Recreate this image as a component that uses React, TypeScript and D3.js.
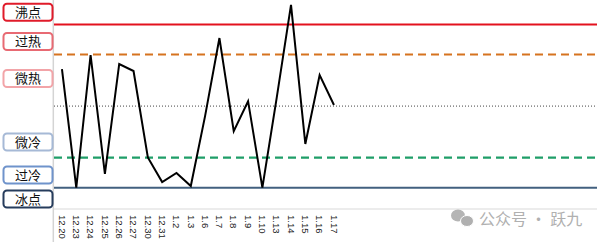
import React from "react";
import * as d3 from "d3";

const dates = ["12.20","12.23","12.24","12.25","12.26","12.27","12.30","12.31","1.2","1.3","1.6","1.7","1.8","1.9","1.10","1.13","1.14","1.15","1.16","1.17"];
const values = [72.7, 0, 81.3, 8.4, 75.8, 71.5, 18.5, 3.5, 9, 1, 44, 91.7, 34.7, 53, 0, 55, 112, 26.8, 69, 50.7];
const totalSlots = 38;
const levelNames = ["沸点","过热","微热","微冷","过冷","冰点"];
const levelLines = [100, 81.6, 50, 18.4, 0];
const labelValues = [107.5, 89.6, 66.9, 28, 7.8, -6.9];

const W = 597, H = 242;

export default function App() {
  const slots = d3.range(totalSlots).map(String);
  const x = d3.scaleBand<string>().domain(slots).range([54.8, 598.8]).padding(0);
  const y = d3.scaleLinear().domain([-13.05, 115]).range([209, 0]);
  const cx = (i: number) => (x(String(i)) as number) + x.bandwidth() / 2;
  const line = d3.line<number>().x((_, i) => cx(i)).y((v) => y(v));

  const lineStyles = [
    { stroke: "#e3121e", width: 2, dash: "" },
    { stroke: "#d6731f", width: 2.2, dash: "8,5" },
    { stroke: "#444", width: 1, dash: "1,2" },
    { stroke: "#1f9e68", width: 2.2, dash: "8,5" },
    { stroke: "#42607f", width: 2, dash: "" },
  ];
  const boxStyles = ["#e01b2a", "#e86a73", "#f2a4a8", "#a6b9d6", "#6f93cb", "#263c5c"];

  return (
    <svg width={W} height={H} style={{ position: "absolute", left: 0, top: 0, background: "#fff" }}>
      <rect x={0} y={0} width={W} height={H} fill="#fff" />
      <line x1={53.3} x2={53.3} y1={0} y2={H} stroke="#d4d4d4" strokeWidth={1.5} />
      <line x1={54} x2={W} y1={y(-13.05)} y2={y(-13.05)} stroke="#d9d9d9" strokeWidth={1} />
      {levelLines.map((v, i) => (
        <line key={i} x1={54} x2={W} y1={y(v)} y2={y(v)} stroke={lineStyles[i].stroke}
          strokeWidth={lineStyles[i].width} strokeDasharray={lineStyles[i].dash || undefined} />
      ))}
      <path d={line(values) || ""} fill="none" stroke="#000" strokeWidth={2} strokeLinejoin="miter" />
      {levelNames.map((name, i) => {
        const cy = y(labelValues[i]);
        return (
          <g key={name}>
            <rect x={3.5} y={cy - 8.5} width={49} height={17} rx={3.5} fill="#fff"
              stroke={boxStyles[i]} strokeWidth={2} />
            <text x={28} y={cy} dy="0.36em" textAnchor="middle" fontSize={13}
              fontFamily="'Noto Sans CJK SC', sans-serif" fill="#111">{name}</text>
          </g>
        );
      })}
      {dates.map((d, i) => (
        <text key={d} transform={`translate(${cx(i) - 3.3},215) rotate(90)`} fontSize={9.5}
          fontFamily="'Liberation Sans', Arial, sans-serif" fill="#222">{d}</text>
      ))}
      <g fill="#b5b5b5">
        <ellipse cx={458} cy={215.5} rx={7} ry={6} />
        <ellipse cx={467} cy={221} rx={6.5} ry={5.5} fill="#b0b0b0" stroke="#fff" strokeWidth={1} />
      </g>
      <text x={479} y={219} dy="0.36em" fontSize={16} fill="#b0b0b0"
        fontFamily="'Noto Sans CJK SC', sans-serif">公众号 · 跃九</text>
    </svg>
  );
}
